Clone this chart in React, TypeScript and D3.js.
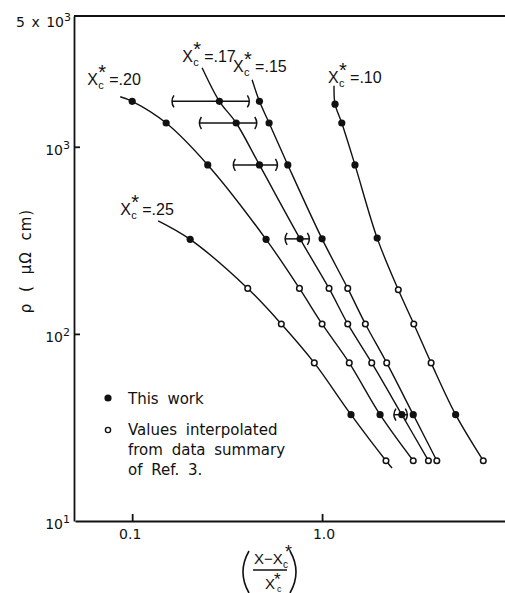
import * as d3 from 'd3';
import React, { useRef, useEffect } from 'react';

const W = 505;
const H = 593;

const rho20 = [1750, 1340, 800, 320, 175, 113, 70, 37, 21];
const rho17 = [1750, 1340, 800, 322, 175, 113, 70, 37, 21];
const rho15 = [1750, 1340, 800, 322, 175, 113, 70, 37, 21];
const rho10 = [1690, 1340, 800, 325, 172, 113, 70, 37, 21];
const rho25 = [320, 175, 113, 70, 37, 21];

// (X - Xc*) / Xc* for each point
const x20 = [0.1, 0.151, 0.25, 0.507, 0.76, 1.0, 1.39, 2.02, 3.02];
const x17 = [0.288, 0.353, 0.468, 0.766, 1.088, 1.365, 1.826, 2.63, 3.63];
const x15 = [0.468, 0.526, 0.66, 1.0, 1.365, 1.69, 2.19, 3.02, 4.02];
const x10 = [1.17, 1.27, 1.49, 1.95, 2.52, 3.04, 3.75, 5.05, 7.06];
const x25 = [0.202, 0.406, 0.61, 0.91, 1.42, 2.17];

// 1 = this work (filled), 0 = interpolated from Ref. 3 (open)
const filled9 = [1, 1, 1, 1, 0, 0, 0, 1, 0];
const filled25 = [1, 0, 0, 0, 1, 0];

// horizontal error bars on the x* = .17 points
const err17Index = [0, 1, 2, 3, 7];
const err17Lo = [0.162, 0.226, 0.341, 0.639, 2.39];
const err17Hi = [0.414, 0.453, 0.582, 0.857, 2.81];

// where each drawn curve begins / ends beyond its points
const curveLabels = ['.20', '.17', '.15', '.10', '.25'];
const leadX = [0.0865, 0.2335, 0.428, 1.156, 0.137];
const leadRho = [1850, 2645, 2282, 2120, 402];
const tail25 = [2.335, 19.2];

// label anchors (data coords)
const labelX = [0.058, 0.1833, 0.34, 1.075, 0.0865];
const labelRho = [2146, 2848, 2518, 2199, 433];

const yTicks = [10, 100, 1000];
const yExp = ['1', '2', '3'];
const xTicks = [0.1, 1];
const xTickLabels = ['0.1', '1.0'];

const FONT = '"DejaVu Sans", sans-serif';
const LFONT = '"Liberation Sans", Arial, sans-serif';

const series = [
  { xs: x20, rho: rho20, filled: filled9 },
  { xs: x17, rho: rho17, filled: filled9 },
  { xs: x15, rho: rho15, filled: filled9 },
  { xs: x10, rho: rho10, filled: filled9 },
  { xs: x25, rho: rho25, filled: filled25 },
];

function Chart() {
  const leftRef = useRef<SVGGElement>(null);
  const bottomRef = useRef<SVGGElement>(null);

  const x = d3.scaleLog().domain([0.05, 10]).range([75, 512]);
  const y = d3.scaleLog().domain([10, 5000]).range([521, 16]);

  useEffect(() => {
    const left = d3.select(leftRef.current);
    left.selectAll('*').remove();
    left
      .call(d3.axisLeft(y).tickValues([100, 1000]).tickSize(-6).tickSizeOuter(0).tickFormat(() => ''))
      .selectAll('path,line')
      .attr('stroke', '#111')
      .attr('stroke-width', 1.8);

    const bottom = d3.select(bottomRef.current);
    bottom.selectAll('*').remove();
    bottom
      .call(d3.axisBottom(x).tickValues(xTicks).tickSize(-7).tickSizeOuter(0).tickFormat(() => ''))
      .selectAll('path,line')
      .attr('stroke', '#111')
      .attr('stroke-width', 1.8);
  });

  const line = d3
    .line<[number, number]>()
    .x(d => x(d[0]))
    .y(d => y(d[1]))
    .curve(d3.curveCatmullRom.alpha(0.5));

  const curves = series.map((s, i) => {
    const pts: [number, number][] = [[leadX[i], leadRho[i]]];
    s.xs.forEach((v, j) => pts.push([v, s.rho[j]]));
    if (i === 4) pts.push([tail25[0], tail25[1]]);
    return pts;
  });

  const capPath = (px: number, py: number, dir: number) =>
    `M${px + dir * 2},${py - 6} Q${px - dir * 2},${py} ${px + dir * 2},${py + 6}`;

  return (
    <svg width={W} height={H} style={{ position: 'absolute', left: 0, top: 0, background: '#fff' }}>
      <rect width={W} height={H} fill="#fff" />

      {/* frame */}
      <line x1={74} x2={W} y1={16} y2={16} stroke="#111" strokeWidth={2} />
      <g ref={leftRef} transform="translate(74,0)" />
      <g ref={bottomRef} transform="translate(0,521)" />

      {/* y tick labels */}
      {yTicks.map((t, i) => (
        <text key={t} x={70} y={y(t) + 8} textAnchor="end" fontFamily={FONT} fontSize={14} fill="#111">
          10<tspan dy={-6} fontSize={11}>{yExp[i]}</tspan>
        </text>
      ))}
      <text x={71} y={y(5000) + 11} textAnchor="end" fontFamily={FONT} fontSize={14} fill="#111" wordSpacing={2}>
        5 x 10<tspan dy={-6} fontSize={11}>3</tspan>
      </text>

      {/* x tick labels */}
      {xTicks.map((t, i) => (
        <text key={t} x={x(t) + (i === 1 ? 2 : -2)} y={539} textAnchor="middle" fontFamily={FONT} fontSize={14} fill="#111">
          {xTickLabels[i]}
        </text>
      ))}

      {/* y axis title */}
      <text
        transform="translate(31,261) rotate(-90)"
        textAnchor="middle"
        fontFamily={FONT}
        fontSize={15}
        fill="#111"
        letterSpacing={1}
        wordSpacing={5}
      >
        ρ ( μΩ cm)
      </text>

      {/* x axis title */}
      <g fontFamily={LFONT} fill="#111">
        <path d="M249,551 Q237,572 249,593" fill="none" stroke="#111" strokeWidth={1.6} />
        <path d="M290,551 Q302,572 290,593" fill="none" stroke="#111" strokeWidth={1.6} />
        <text x={254} y={564} fontSize={15}>X−X</text>
        <text x={283} y={568} fontSize={10}>c</text>
        <text x={285} y={558} fontSize={18}>*</text>
        <line x1={253} x2={287} y1={570} y2={570} stroke="#111" strokeWidth={1.5} />
        <text x={265} y={589} fontSize={15}>X</text>
        <text x={277} y={592} fontSize={9}>c</text>
        <text x={274} y={585} fontSize={17}>*</text>
      </g>

      {/* curves */}
      {curves.map((pts, i) => (
        <path key={i} d={line(pts) || ''} fill="none" stroke="#111" strokeWidth={1.4} />
      ))}

      {/* error bars */}
      {err17Index.map((idx, k) => {
        const py = y(rho17[idx]);
        const a = x(err17Lo[k]);
        const b = x(err17Hi[k]);
        return (
          <g key={k} stroke="#111" fill="none" strokeWidth={1.5}>
            <line x1={a} x2={b} y1={py} y2={py} />
            <path d={capPath(a, py, 1)} />
            <path d={capPath(b, py, -1)} />
          </g>
        );
      })}

      {/* points */}
      {series.map((s, i) =>
        s.xs.map((v, j) =>
          s.filled[j] ? (
            <circle key={`${i}-${j}`} cx={x(v)} cy={y(s.rho[j])} r={3.6} fill="#111" />
          ) : (
            <circle key={`${i}-${j}`} cx={x(v)} cy={y(s.rho[j])} r={2.8} fill="#fff" stroke="#111" strokeWidth={1.5} />
          )
        )
      )}

      {/* curve labels */}
      {curveLabels.map((lab, i) => {
        const lx = x(labelX[i]);
        const ly = y(labelRho[i]);
        return (
          <g key={lab} fontFamily={LFONT} fill="#111">
            <text x={lx} y={ly} fontSize={16}>X</text>
            <text x={lx + 11} y={ly + 4} fontSize={11}>c</text>
            <text x={lx + 11} y={ly - 6} fontSize={20}>*</text>
            <text x={lx + 22} y={ly} fontSize={16}>{'=' + lab}</text>
          </g>
        );
      })}

      {/* legend */}
      <g fontFamily={FONT} fill="#111" fontSize={15} wordSpacing={4}>
        <circle cx={108} cy={398} r={3.6} fill="#111" />
        <text x={128} y={404}>This work</text>
        <circle cx={108} cy={430} r={2.6} fill="#fff" stroke="#111" strokeWidth={1.4} />
        <text x={128} y={435}>Values interpolated</text>
        <text x={128} y={455}>from data summary</text>
        <text x={128} y={475}>of Ref. 3.</text>
      </g>
    </svg>
  );
}

export default function App() {
  return <Chart />;
}
